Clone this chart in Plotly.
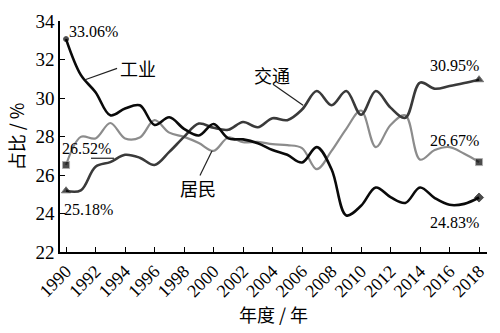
import plotly.graph_objects as go

years = list(range(1990, 2019))
industry = [33.06, 31.2, 30.3, 29.1, 29.45, 29.62, 28.6, 29.0, 28.4, 28.05,
            28.65, 27.9, 27.85, 27.65, 27.3, 27.05, 26.65, 27.45, 26.3, 23.9,
            24.4, 25.35, 24.85, 24.55, 25.35, 24.8, 24.45, 24.5, 24.83]
transport = [25.18, 25.2, 26.43, 26.67, 27.05, 26.9, 26.52, 27.2, 27.98, 28.67,
             28.45, 28.35, 28.75, 28.48, 28.95, 28.85, 29.4, 30.36, 29.62, 30.36,
             29.13, 30.36, 29.5, 28.97, 30.8, 30.48, 30.62, 30.78, 30.95]
residential = [26.52, 27.98, 27.9, 28.7, 27.9, 27.95, 28.85, 28.2, 27.98, 27.66,
               27.25, 27.95, 27.7, 27.72, 27.6, 27.55, 27.4, 26.3, 27.25, 28.4,
               29.35, 27.45, 28.6, 29.1, 26.8, 27.3, 27.45, 27.1, 26.67]
series_names = ["工业", "交通", "居民"]
x_ticks = list(range(1990, 2019, 2))
y_ticks = [22, 24, 26, 28, 30, 32, 34]

FONT = "Liberation Serif, Times New Roman, Noto Sans CJK SC, serif"
CJK = "Noto Sans CJK SC, Liberation Serif"

n = len(years)
def end_sizes(s):
    return [s] + [0] * (n - 2) + [s]

fig = go.Figure()
fig.add_trace(go.Scatter(
    x=years, y=residential, name=series_names[2], mode="lines+markers",
    line=dict(color="#8c8c8c", width=2.2, shape="spline", smoothing=1),
    marker=dict(symbol="square", size=end_sizes(7), color="#000000"),
))
fig.add_trace(go.Scatter(
    x=years, y=transport, name=series_names[1], mode="lines+markers",
    line=dict(color="#3a3a3a", width=2.6, shape="spline", smoothing=1),
    marker=dict(symbol="triangle-up", size=end_sizes(8), color="#000000"),
))
fig.add_trace(go.Scatter(
    x=years, y=industry, name=series_names[0], mode="lines+markers",
    line=dict(color="#0a0a0a", width=2.6, shape="spline", smoothing=1),
    marker=dict(symbol=["circle"] + ["circle"] * (n - 2) + ["diamond"],
                size=[5] + [0] * (n - 2) + [7], color="#000000"),
))

def pct(v):
    return f"{v:.2f}%"

annos = [
    (1991.83, 33.46, pct(industry[0])),
    (2016.37, 31.69, pct(transport[-1])),
    (2016.37, 27.80, pct(residential[-1])),
    (2016.37, 23.52, pct(industry[-1])),
    (1991.42, 27.36, pct(residential[0])),
    (1991.49, 24.21, pct(transport[0])),
]
for ax_, ay_, t in annos:
    fig.add_annotation(x=ax_, y=ay_, text=t, showarrow=False,
                       font=dict(family=FONT, size=16, color="#000"))

labels = [
    (1994.88, 31.54, series_names[0]),
    (2003.97, 31.20, series_names[1]),
    (1998.95, 25.34, series_names[2]),
]
for lx, ly, t in labels:
    fig.add_annotation(x=lx, y=ly, text=t, showarrow=False,
                       font=dict(family=CJK, size=18, color="#000"))

leaders = [
    (1991.29, 30.95, 1993.46, 31.54),
    (2004.03, 30.71, 2006.07, 29.62),
    (1999.08, 25.98, 1999.90, 27.26),
    (1991.69, 26.87, 1993.25, 26.87),
]
for x0, y0, x1, y1 in leaders:
    fig.add_shape(type="line", x0=x0, y0=y0, x1=x1, y1=y1,
                  line=dict(color="#222", width=1.2))

fig.update_layout(
    width=500, height=333,
    margin=dict(l=60, r=13, t=11, b=78),
    paper_bgcolor="white", plot_bgcolor="white",
    showlegend=False,
    font=dict(family=FONT, color="#000"),
    xaxis=dict(
        range=[1989.59, 2018.54], tickmode="array", tickvals=x_ticks,
        ticktext=[str(v) for v in x_ticks], tickangle=-45,
        ticks="inside", ticklen=5, tickcolor="#000", tickwidth=1.3,
        showline=True, linecolor="#000", linewidth=1.5,
        showgrid=False, zeroline=False,
        tickfont=dict(family=FONT, size=18, color="#000"),
        title=dict(text="年度 / 年", font=dict(family=CJK, size=18, color="#000"),
                   standoff=8),
    ),
    yaxis=dict(
        range=[22, 34], tickmode="array", tickvals=y_ticks,
        ticks="inside", ticklen=5, tickcolor="#000", tickwidth=1.3,
        showline=True, linecolor="#000", linewidth=1.5,
        showgrid=False, zeroline=False,
        tickfont=dict(family=FONT, size=19, color="#000"),
        title=dict(text="占比 / %", font=dict(family=CJK, size=18, color="#000"),
                   standoff=6),
    ),
)

fig.write_html("out.html")
